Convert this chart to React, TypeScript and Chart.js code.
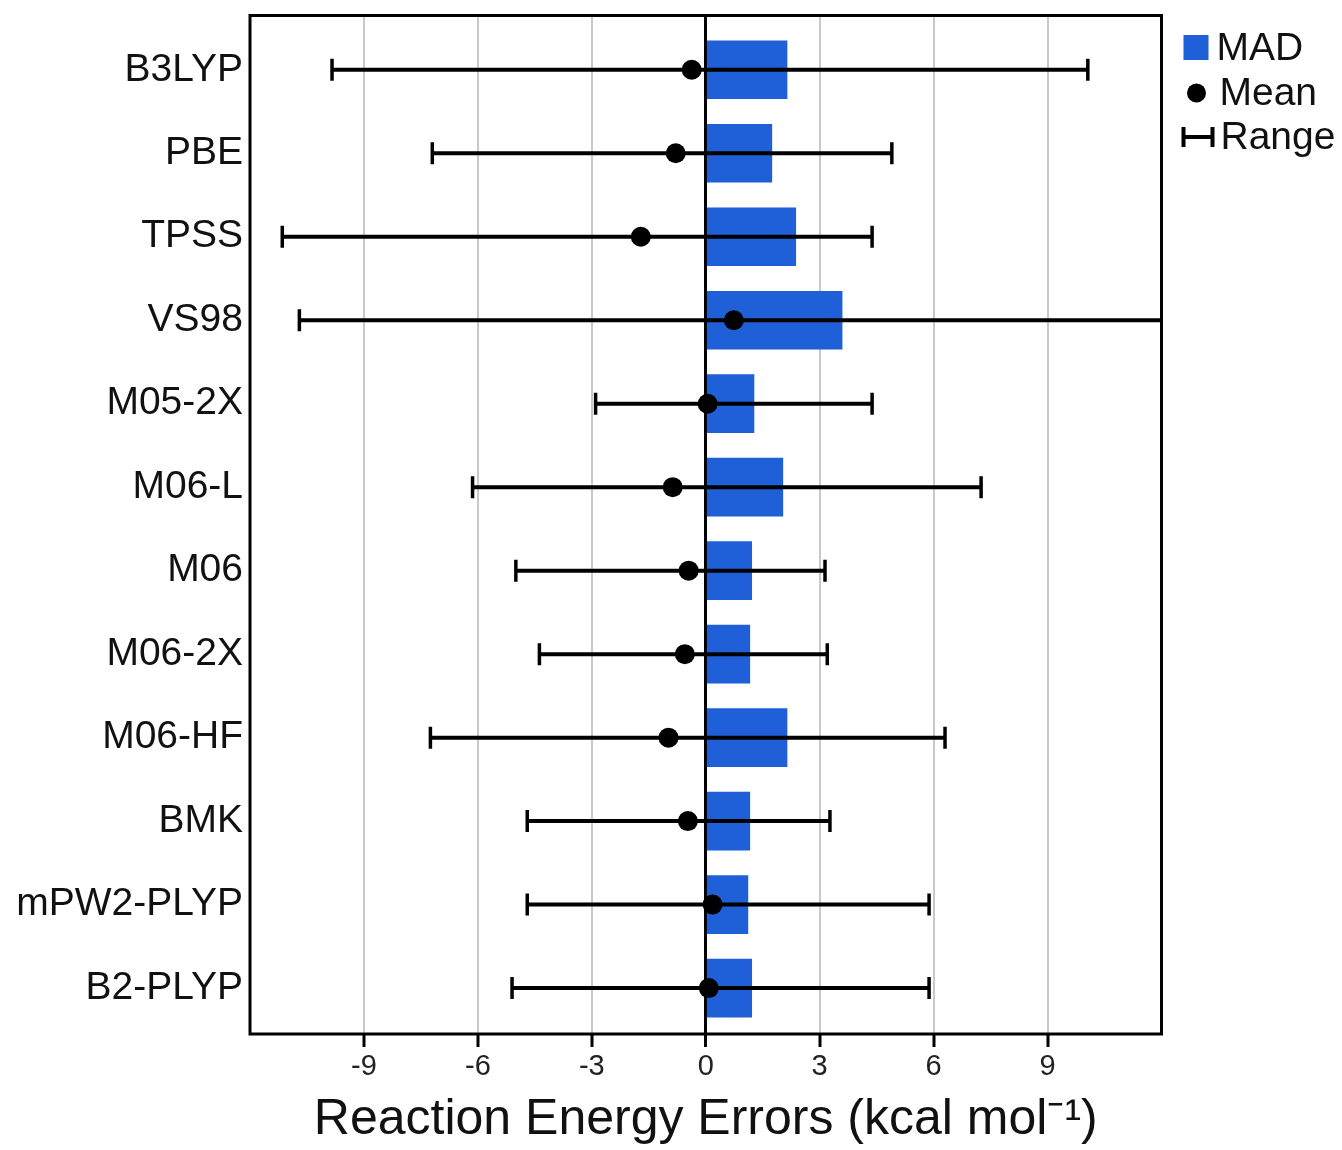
import React, { useEffect, useRef } from "react";
import { Chart, registerables } from "chart.js";

Chart.register(...registerables);

const categories = ["B3LYP", "PBE", "TPSS", "VS98", "M05-2X", "M06-L", "M06", "M06-2X", "M06-HF", "BMK", "mPW2-PLYP", "B2-PLYP"];
const madValues = [2.14, 1.74, 2.37, 3.59, 1.27, 2.03, 1.21, 1.16, 2.14, 1.16, 1.11, 1.21];
const meanValues = [-0.37, -0.79, -1.71, 0.74, 0.05, -0.87, -0.45, -0.55, -0.98, -0.47, 0.18, 0.08];
const rangeMin = [-9.84, -7.2, -11.15, -10.7, -2.9, -6.14, -5.0, -4.38, -7.25, -4.7, -4.7, -5.1];
const rangeMax = [10.06, 4.9, 4.38, 12.6, 4.38, 7.25, 3.14, 3.2, 6.3, 3.27, 5.88, 5.88];
const xTickValues = [-12, -9, -6, -3, 0, 3, 6, 9, 12];
const xTitle = "Reaction Energy Errors (kcal mol\u207B\u00B9)";

const FONT = "'Liberation Sans', Arial, Helvetica, sans-serif";
const BLUE = "#1f5fd8";

const framePlugin = {
  id: "frame",
  afterDatasetsDraw(chart: any) {
    const { ctx, chartArea } = chart;
    ctx.save();
    ctx.strokeStyle = "#000";
    ctx.lineWidth = 3;
    ctx.strokeRect(chartArea.left, chartArea.top, chartArea.right - chartArea.left, chartArea.bottom - chartArea.top);
    ctx.restore();
  },
};

const legendPlugin = {
  id: "customLegend",
  afterDraw(chart: any) {
    const { ctx, chartArea } = chart;
    const ds = chart.data.datasets;
    const x0 = chartArea.right + 22;
    ctx.save();
    ctx.font = `39px ${FONT}`;
    ctx.fillStyle = "#111";
    ctx.textBaseline = "middle";
    ctx.textAlign = "left";
    // MAD
    ctx.fillStyle = ds[0].backgroundColor;
    ctx.fillRect(x0, 35, 25, 25);
    ctx.fillStyle = "#111";
    ctx.fillText(ds[0].label, x0 + 33, 49);
    // Mean
    ctx.beginPath();
    ctx.arc(x0 + 13, 93, 9.5, 0, Math.PI * 2);
    ctx.fillStyle = "#000";
    ctx.fill();
    ctx.fillStyle = "#111";
    ctx.fillText(ds[2].label, x0 + 36, 94);
    // Range
    ctx.strokeStyle = "#000";
    ctx.lineWidth = 4;
    ctx.beginPath();
    ctx.moveTo(x0, 137);
    ctx.lineTo(x0 + 29, 137);
    ctx.moveTo(x0, 127);
    ctx.lineTo(x0, 147);
    ctx.moveTo(x0 + 29, 127);
    ctx.lineTo(x0 + 29, 147);
    ctx.stroke();
    ctx.fillText(ds[1].label, x0 + 37, 138);
    ctx.restore();
  },
};

export default function App() {
  const canvasRef = useRef<HTMLCanvasElement | null>(null);

  useEffect(() => {
    const canvas = canvasRef.current;
    if (!canvas) return;
    Chart.defaults.font.family = FONT;

    const barData = categories.map((_, i) => ({ x: madValues[i], y: i }));
    const meanData = categories.map((_, i) => ({ x: meanValues[i], y: i }));
    const rangeData: any[] = [];
    categories.forEach((_, i) => {
      rangeData.push({ x: rangeMin[i], y: i });
      rangeData.push({ x: rangeMax[i], y: i });
      rangeData.push({ x: null, y: null });
    });

    const chart = new Chart(canvas, {
      type: "bar",
      data: {
        datasets: [
          {
            type: "bar",
            label: "MAD",
            data: barData,
            backgroundColor: BLUE,
            borderWidth: 0,
            barThickness: 58,
            order: 3,
          } as any,
          {
            type: "line",
            label: "Range",
            data: rangeData,
            borderColor: "#000",
            borderWidth: 4,
            spanGaps: false,
            fill: false,
            pointStyle: "line",
            pointRotation: 90,
            pointRadius: 11,
            pointBorderWidth: 3.5,
            pointBorderColor: "#000",
            pointBackgroundColor: "#000",
            order: 2,
          } as any,
          {
            type: "scatter",
            label: "Mean",
            data: meanData,
            pointRadius: 10,
            pointBackgroundColor: "#000",
            pointBorderColor: "#000",
            pointBorderWidth: 0,
            order: 1,
          } as any,
        ],
      },
      options: {
        indexAxis: "y",
        responsive: false,
        animation: false,
        events: [],
        layout: { padding: { left: 0, top: 15.5, right: 180.5, bottom: 0 } },
        plugins: {
          legend: { display: false },
          tooltip: { enabled: false },
        },
        scales: {
          x: {
            type: "linear",
            min: -12,
            max: 12,
            offset: false,
            afterBuildTicks: (scale: any) => {
              scale.ticks = xTickValues.map((v) => ({ value: v }));
            },
            afterFit: (scale: any) => {
              scale.height = 116;
            },
            border: { display: false },
            grid: {
              drawOnChartArea: true,
              drawTicks: true,
              tickLength: 13,
              color: (c: any) => {
                const v = c.tick ? c.tick.value : null;
                if (v === 0) return "#000";
                if (v === -12 || v === 12) return "rgba(0,0,0,0)";
                return "#c9c9c9";
              },
              lineWidth: (c: any) => (c.tick && c.tick.value === 0 ? 3 : 2),
              tickColor: (c: any) => {
                const v = c.tick ? c.tick.value : null;
                if (v === -12 || v === 12) return "rgba(0,0,0,0)";
                return "#000";
              },
              tickWidth: 3,
            },
            ticks: {
              autoSkip: false,
              font: { size: 29 },
              color: "#222",
              padding: 3,
              callback: (v: any) => (v === -12 || v === 12 ? "" : String(v)),
            },
            title: {
              display: true,
              text: xTitle,
              font: { size: 50 },
              color: "#111",
              padding: { top: 0, bottom: 0 },
            },
          },
          y: {
            type: "linear",
            reverse: true,
            offset: false,
            min: -0.65,
            max: 11.55,
            afterBuildTicks: (scale: any) => {
              scale.ticks = categories.map((_, i) => ({ value: i }));
            },
            afterFit: (scale: any) => {
              scale.width = 250;
              scale.paddingTop = 0;
              scale.paddingBottom = 0;
            },
            border: { display: false },
            grid: { display: false, drawTicks: false, offset: false },
            ticks: {
              autoSkip: false,
              font: { size: 39 },
              color: "#111",
              padding: 7,
              callback: (v: any) => categories[v] ?? "",
            },
          },
        },
      } as any,
      plugins: [framePlugin, legendPlugin],
    });

    return () => {
      chart.destroy();
    };
  }, []);

  return (
    <div style={{ position: "absolute", left: 0, top: 0, width: 1342, height: 1150, background: "#fff" }}>
      <canvas ref={canvasRef} width={1342} height={1150} style={{ display: "block", width: 1342, height: 1150 }} />
    </div>
  );
}
